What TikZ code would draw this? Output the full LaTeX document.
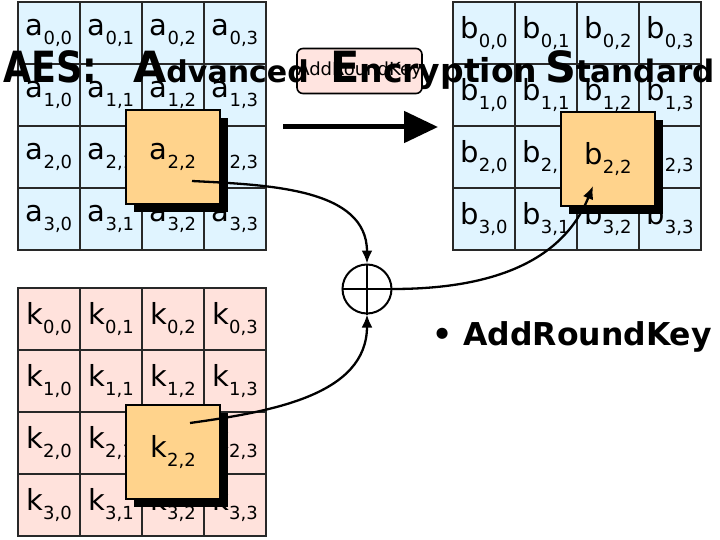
\documentclass[tikz,border=0pt]{standalone}
\usepackage{fontspec}
\usepackage{graphicx}
\setmainfont{DejaVu Sans}
\newfontfamily\dv{DejaVu Sans}
\usetikzlibrary{arrows.meta}
\definecolor{cellblue}{RGB}{224,244,255}
\definecolor{cellpink}{RGB}{255,226,220}
\definecolor{hiorange}{RGB}{255,211,140}
\definecolor{boxpink}{RGB}{255,228,224}
\definecolor{gridline}{RGB}{40,40,40}
\newcommand{\celllab}[2]{{\dv\fontsize{29}{31}\selectfont #1\raisebox{-9pt}{\fontsize{18}{20}\selectfont #2}}}
\newcommand{\bigc}[1]{{\fontsize{43}{43}\selectfont #1}}
\newcommand{\lowc}[2]{{\fontsize{#1}{#1}\selectfont #2}}
\tikzset{
  cellbox/.style={draw=gridline, line width=1.3pt, minimum width=62pt, minimum height=62pt, inner sep=0pt, anchor=center},
  hibox/.style={draw=black, line width=2.5pt, fill=hiorange, minimum width=94pt, minimum height=94pt, inner sep=0pt},
  shadowbox/.style={fill=black, minimum width=94pt, minimum height=94pt, inner sep=0pt},
  flow/.style={line width=2.3pt, -{Latex[length=13pt,width=11pt]}},
}
\begin{document}
\begin{tikzpicture}[x=1pt,y=-1pt]
\useasboundingbox (0,0) rectangle (720,540);
% grids
\foreach \r in {0,1,2,3}{
  \foreach \c in {0,1,2,3}{
    \node[cellbox, fill=cellblue] (a\r\c) at ({49+62*\c},{33+62*\r}) {\celllab{a}{\r,\c}};
    \node[cellbox, fill=cellblue] (b\r\c) at ({484+62*\c},{33+62*\r}) {\celllab{b}{\r,\c}};
    \node[cellbox, fill=cellpink] (k\r\c) at ({49+62*\c},{319+62*\r}) {\celllab{k}{\r,\c}};
  }
}
% highlighted boxes
\node[shadowbox] (as) at (181,165) {};
\node[hibox] (ah) at (173,157) {\celllab{a}{2,2}};
\node[shadowbox] (bs) at (616,167) {};
\node[hibox] (bh) at (608,159) {\celllab{b}{2,2}};
\node[shadowbox] (ks) at (181,460) {};
\node[hibox] (kh) at (173,452) {\celllab{k}{2,2}};
% xor
\node[draw, line width=2pt, circle, minimum size=49pt, inner sep=0pt] (xor) at (367,289) {};
\draw[line width=2pt] (xor.north) -- (xor.south);
\draw[line width=2pt] (xor.west) -- (xor.east);
% connectors
\coordinate (aout) at (192,181);
\coordinate (kout) at (190,423);
\coordinate (bin) at (593,186);
\draw[flow] (aout) to[out=-3,in=90] (xor.north);
\draw[flow] (kout) to[out=8,in=-90] (xor.south);
\draw[flow] (xor.east) to[out=0,in=-112] (bin);
% big arrow
\coordinate (bas) at (283,127);
\coordinate (bae) at (438,127);
\draw[line width=5pt, -{Triangle[length=34pt,width=31pt]}] (bas) -- (bae);
% AddRoundKey box
\node[draw=black, line width=1.6pt, rounded corners=6pt, fill=boxpink, minimum width=125pt, minimum height=45pt, inner sep=0pt] (ark) at (359.5,71) {\fontsize{18}{20}\selectfont AddRoundKey};
% title
\node[anchor=base west, inner sep=0pt, font=\bfseries] (title) at (3,83) {\makebox[130pt][l]{\scalebox{0.85}[1]{\bigc{AES:}}}\makebox[197pt][l]{\bigc{A}\lowc{30}{dvanced}}\makebox[215pt][l]{\bigc{E}\lowc{33}{ncryption}}\bigc{S}\lowc{31}{tandard}};
% bullet
\node[anchor=base west, inner sep=0pt, font=\bfseries\fontsize{31.5}{33}\selectfont] (bullet) at (432,345) {\textbullet\ AddRoundKey};
\end{tikzpicture}
\end{document}
